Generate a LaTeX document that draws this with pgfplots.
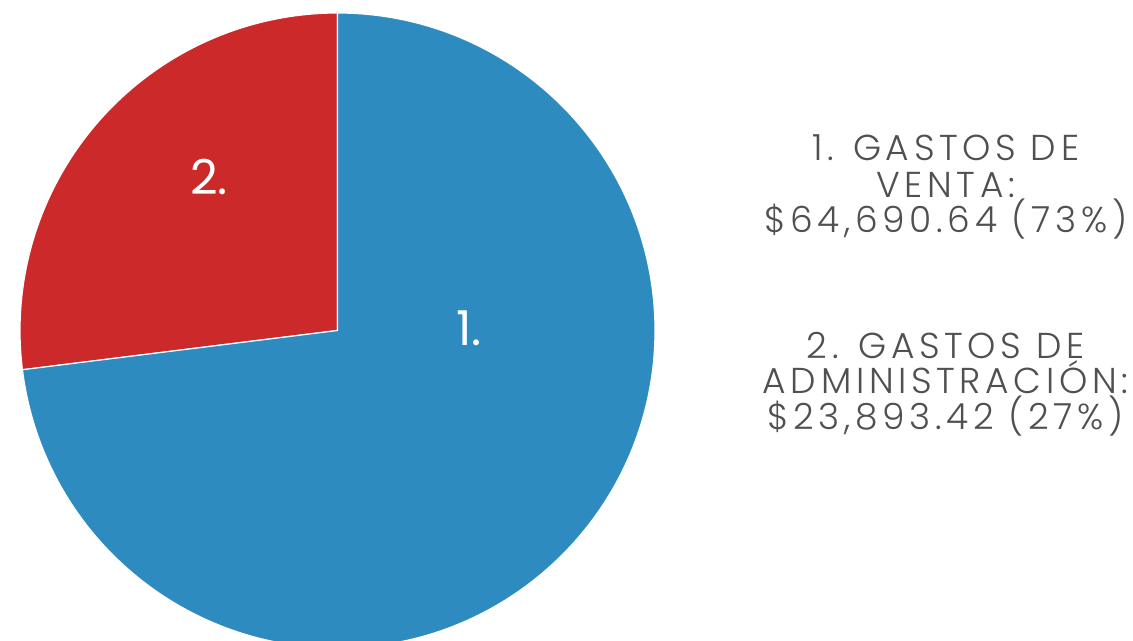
\documentclass[border=0pt]{standalone}
\usepackage{fontspec}
\setmainfont{Poppins}
\newfontfamily\legfont[LetterSpace=13, UprightFont={* Light}]{Poppins}
\usepackage{pgfplots}
\usepackage{pgfplotstable}
\pgfplotsset{compat=1.18}

\definecolor{pieBlue}{HTML}{2E8BC0}
\definecolor{pieRed}{HTML}{CC2A2A}
\definecolor{legGray}{HTML}{505050}

% gastos: venta / administracion
\pgfplotstableread{
id value
1 64690.64
2 23893.42
}\gastos

\pgfplotstablegetelem{0}{value}\of\gastos \let\vVenta\pgfplotsretval
\pgfplotstablegetelem{1}{value}\of\gastos \let\vAdmin\pgfplotsretval
% slices start at 12 o'clock, slice 2 counter-clockwise first
\edef\angSplit{\fpeval{90 + 360*\vAdmin/(\vVenta+\vAdmin)}}

\begin{document}
\begin{tikzpicture}
\path[use as bounding box] (0,0) rectangle (566.5pt,320.5pt);
\clip (0,0) rectangle (566.5pt,320.5pt);
\begin{axis}[
    hide axis,
    x=158.75pt, y=158.75pt,
    xmin=-1, xmax=1, ymin=-1, ymax=1,
    anchor=origin, at={(168.75pt,155.25pt)},
    clip=false,
]
\fill[pieRed, draw=white, line width=0.6pt]
    (axis cs:0,0) -- (axis cs:0,1) arc[start angle=90, end angle=\angSplit, radius=158.75pt] -- cycle;
\fill[pieBlue, draw=white, line width=0.6pt]
    (axis cs:0,0) -- (axis cs:0,1) arc[start angle=90, end angle=\angSplit-360, radius=158.75pt] -- cycle;
\end{axis}

\node[white, font=\fontsize{24}{24}\selectfont, anchor=base] at (104.5pt,223pt) {2.};
\node[white, font=\fontsize{24}{24}\selectfont, anchor=base] at (234.5pt,147.6pt) {1.};

\begin{scope}[every node/.style={legGray, anchor=base, inner sep=0pt,
      font=\legfont\fontsize{18}{18}\selectfont}]
\node at (472.8pt,240pt) {1. GASTOS DE};
\node at (472.8pt,221.75pt) {VENTA:};
\node at (472.8pt,204pt) {\$64,690.64 (73\%)};
\node at (472.8pt,141.25pt) {2. GASTOS DE};
\node at (472.8pt,123.5pt) {ADMINISTRACIÓN:};
\node at (472.8pt,105.5pt) {\$23,893.42 (27\%)};
\end{scope}
\end{tikzpicture}
\end{document}
